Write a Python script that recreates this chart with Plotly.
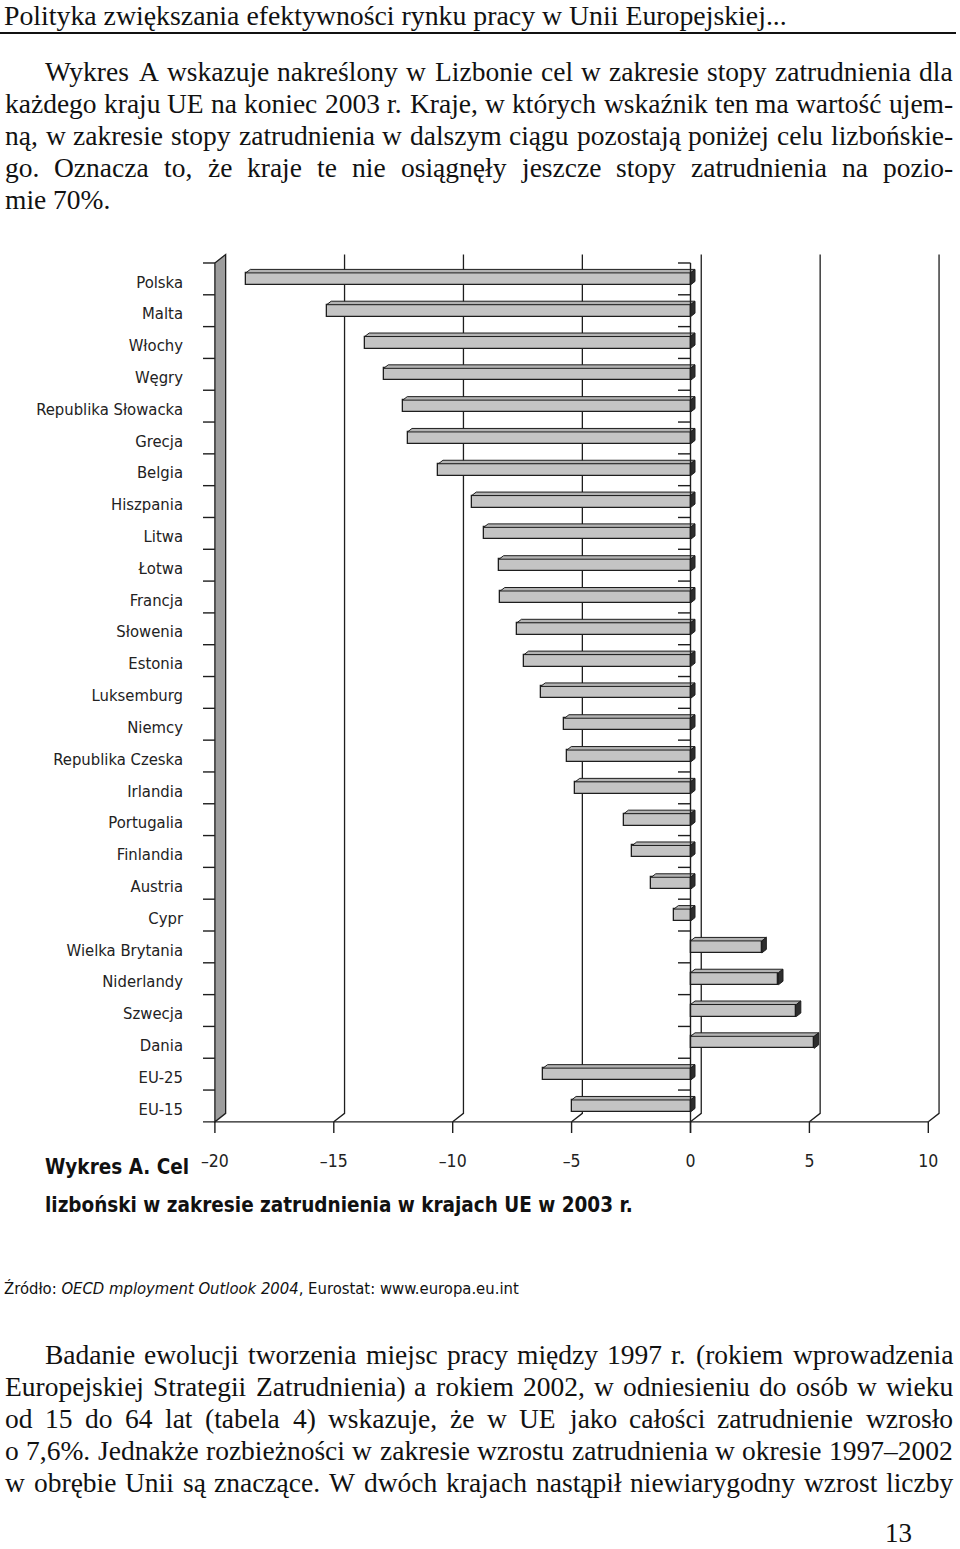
import plotly.graph_objects as go

# ---------------- data ----------------
countries = ["Polska", "Malta", "Włochy", "Węgry", "Republika Słowacka", "Grecja", "Belgia",
             "Hiszpania", "Litwa", "Łotwa", "Francja", "Słowenia", "Estonia", "Luksemburg",
             "Niemcy", "Republika Czeska", "Irlandia", "Portugalia", "Finlandia", "Austria",
             "Cypr", "Wielka Brytania", "Niderlandy", "Szwecja", "Dania", "EU-25", "EU-15"]
gap_to_target = [-18.7, -15.3, -13.7, -12.9, -12.1, -11.9, -10.6,
                 -9.2, -8.7, -8.05, -8.0, -7.3, -7.0, -6.3,
                 -5.3, -5.2, -4.85, -2.8, -2.45, -1.65,
                 -0.7, 3.0, 3.7, 4.45, 5.2, -6.2, -5.0]
tick_values = [-20, -15, -10, -5, 0, 5, 10]
tick_labels = ["–20", "–15", "–10", "–5", "0", "5", "10"]

header = "Polityka zwiększania efektywności rynku pracy w Unii Europejskiej..."
para1 = ["Wykres A wskazuje nakreślony w Lizbonie cel w zakresie stopy zatrudnienia dla",
         "każdego kraju UE na koniec 2003 r. Kraje, w których wskaźnik ten ma wartość ujem-",
         "ną, w zakresie stopy zatrudnienia w dalszym ciągu pozostają poniżej celu lizbońskie-",
         "go. Oznacza to, że kraje te nie osiągnęły jeszcze stopy zatrudnienia na pozio-",
         "mie 70%."]
para2 = ["Badanie ewolucji tworzenia miejsc pracy między 1997 r. (rokiem wprowadzenia",
         "Europejskiej Strategii Zatrudnienia) a rokiem 2002, w odniesieniu do osób w wieku",
         "od 15 do 64 lat (tabela 4) wskazuje, że w UE jako całości zatrudnienie wzrosło",
         "o 7,6%. Jednakże rozbieżności w zakresie wzrostu zatrudnienia w okresie 1997–2002",
         "w obrębie Unii są znaczące. W dwóch krajach nastąpił niewiarygodny wzrost liczby"]
caption1 = "Wykres A. Cel"
caption2 = "lizboński w zakresie zatrudnienia w krajach UE w 2003 r."
source = "Źródło: <i>OECD mployment Outlook 2004</i>, Eurostat: www.europa.eu.int"
page_no = "13"

# ---------------- geometry ----------------
W, H = 960, 1549
X0_PX, PX_PER_UNIT = 690.5, 23.78
ROW0_PX, PX_PER_ROW = 278.9, 31.81
L_PX, R_PX, T_PX, B_PX = 186, 950, 246, 1140

def ux(px):  # pixel x -> data x
    return (px - X0_PX) / PX_PER_UNIT

def ur(py):  # pixel y -> row
    return (py - ROW0_PX) / PX_PER_ROW

def fx(px):
    return px / W

def fy(py):
    return 1 - py / H

rows = list(range(len(countries)))
n = len(countries)
label_rows = [r + 0.09 for r in rows]
half_h = 6.0 / PX_PER_ROW
ddx, ddy = 4.5 / PX_PER_UNIT, -3.5 / PX_PER_ROW
bdx, bdy = 10.75 / PX_PER_UNIT, -8.5 / PX_PER_ROW
top_row = -0.5
floor_row = n - 0.5
tick_bottom_row = ur(1133)

SERIF = "Liberation Serif, Times New Roman, serif"
NARROW = "Liberation Sans Narrow, DejaVu Sans Condensed, Arial Narrow, Liberation Sans, sans-serif"
LINE = "#1e1e1e"

fig = go.Figure()

# front faces
fig.add_trace(go.Bar(
    x=gap_to_target, y=rows, orientation="h", base=0, width=2 * half_h,
    marker=dict(color="#c4c4c4", line=dict(color=LINE, width=1.3)),
    hoverinfo="skip", showlegend=False))

# top faces and end caps
tx, ty, cx, cy = [], [], [], []
for r, v in zip(rows, gap_to_target):
    x0, x1 = min(0, v), max(0, v)
    yt, yb = r - half_h, r + half_h
    tx += [x0, x1, x1 + ddx, x0 + ddx, x0, None]
    ty += [yt, yt, yt + ddy, yt + ddy, yt, None]
    cx += [x1, x1, x1 + ddx, x1 + ddx, x1, None]
    cy += [yt, yb, yb + ddy, yt + ddy, yt, None]
fig.add_trace(go.Scatter(x=tx, y=ty, mode="lines", fill="toself", fillcolor="#b3b3b3",
                         line=dict(color=LINE, width=1), hoverinfo="skip", showlegend=False))
fig.add_trace(go.Scatter(x=cx, y=cy, mode="lines", fill="toself", fillcolor="#2e2e2e",
                         line=dict(color=LINE, width=1), hoverinfo="skip", showlegend=False))

shapes = []
# left wall
wall = (f"M {-20},{top_row} L {-20 + bdx},{top_row + bdy} L {-20 + bdx},{floor_row + bdy} "
        f"L {-20},{floor_row} Z")
shapes.append(dict(type="path", path=wall, xref="x", yref="y", fillcolor="#9d9d9d",
                   line=dict(color=LINE, width=1.3), layer="below"))
# back gridlines with floor slant
for v in tick_values[1:]:
    p = (f"M {v + bdx},{top_row + bdy} L {v + bdx},{floor_row + bdy} L {v},{floor_row}")
    shapes.append(dict(type="path", path=p, xref="x", yref="y",
                       line=dict(color=LINE, width=1.3), layer="below"))
# floor front edge
shapes.append(dict(type="line", xref="x", yref="y", x0=ux(203), x1=10, y0=floor_row, y1=floor_row,
                   line=dict(color=LINE, width=1.4), layer="above"))
# category ticks on the wall and at zero
for k in range(n):
    yk = k - 0.5
    shapes.append(dict(type="line", xref="x", yref="y", x0=ux(203), x1=-20, y0=yk, y1=yk,
                       line=dict(color=LINE, width=1.4), layer="above"))
    shapes.append(dict(type="line", xref="x", yref="y", x0=ux(678), x1=0, y0=yk, y1=yk,
                       line=dict(color=LINE, width=1.4), layer="above"))
# zero axis line
shapes.append(dict(type="line", xref="x", yref="y", x0=0, x1=0, y0=top_row, y1=tick_bottom_row,
                   line=dict(color=LINE, width=1.4), layer="above"))
# value ticks under the floor
for v in tick_values:
    shapes.append(dict(type="line", xref="x", yref="y", x0=v, x1=v, y0=floor_row,
                       y1=tick_bottom_row, line=dict(color=LINE, width=1.4), layer="above"))
# header rule
shapes.append(dict(type="line", xref="paper", yref="paper", x0=0, x1=fx(956), y0=fy(33), y1=fy(33),
                   line=dict(color="#111", width=2)))

ann = []
def text(t, px, py, size, family, anchor="left", color="#111"):
    ann.append(dict(text=t, x=fx(px), y=fy(py), xref="paper", yref="paper", xanchor=anchor,
                    yanchor="middle", showarrow=False, borderpad=0,
                    font=dict(size=size, family=family, color=color)))

# Times-compatible advance widths (1/1000 em) for justification
TW = dict(zip("abcdefghijklmnopqrstuvwxyz",
              [444, 500, 444, 500, 444, 333, 500, 500, 278, 278, 500, 278, 778, 500, 500, 500,
               500, 333, 389, 278, 500, 500, 722, 500, 500, 444]))
TW.update(dict(zip("ABCDEFGHIJKLMNOPQRSTUVWXYZ",
                   [722, 667, 667, 722, 611, 556, 722, 722, 333, 389, 722, 611, 889, 722, 722,
                    556, 722, 667, 556, 611, 722, 722, 944, 722, 722, 611])))
TW.update({c: 500 for c in "0123456789"})
TW.update({",": 250, ".": 250, "-": 333, "(": 333, ")": 333, "%": 833, ":": 278, ";": 278,
           "–": 500, " ": 250})
BASE = dict(zip("ąćęłńóśźżĄĆĘŁŃÓŚŹŻ", "acelnoszzACELNOSZZ"))

def word_w(w, size):
    return sum(TW.get(BASE.get(c, c), 500) for c in w) * size / 1000.0

BODY = 27.5
def justified(lines, ys, left_first, left, right, justify_last):
    for i, (line, yy) in enumerate(zip(lines, ys)):
        x0 = left_first if i == 0 else left
        last = (i == len(lines) - 1)
        if last and not justify_last:
            text(line, x0, yy, BODY, SERIF)
            continue
        words = line.split(" ")
        widths = [word_w(w, BODY) for w in words]
        gap = (right - x0 - sum(widths)) / (len(words) - 1)
        x = x0
        for w, wd in zip(words, widths):
            text(w, x, yy, BODY, SERIF)
            x += wd + gap

text(header, 3, 15, 27.8, SERIF)
justified(para1, [72, 104, 136, 168, 200], 44, 4, 952, False)
justified(para2, [1354, 1386, 1418, 1450, 1482], 44, 4, 952, True)
text(page_no, 898, 1533, 27, SERIF, anchor="center")
text("<b>" + caption1 + "</b>", 44, 1167, 20.5, NARROW)
text("<b>" + caption2 + "</b>", 44, 1205, 20.5, NARROW)
text(source, 3, 1288, 16.5, NARROW)

fig.update_layout(
    width=W, height=H, autosize=False,
    margin=dict(l=0, r=0, t=0, b=0),
    paper_bgcolor="white", plot_bgcolor="white",
    showlegend=False, bargap=0,
    shapes=shapes, annotations=ann,
    xaxis=dict(domain=[fx(L_PX), fx(R_PX)], range=[ux(L_PX), ux(R_PX)],
               tickvals=tick_values, ticktext=tick_labels, ticks="", showgrid=False,
               zeroline=False, showline=False, ticklabelstandoff=8,
               tickfont=dict(size=17.5, family=NARROW, color="#222")),
    yaxis=dict(domain=[fy(B_PX), fy(T_PX)], range=[ur(B_PX), ur(T_PX)],
               tickvals=label_rows, ticktext=countries, ticks="", showgrid=False,
               zeroline=False, showline=False, ticklabelstandoff=2,
               tickfont=dict(size=16.5, family=NARROW, color="#222")),
)

fig.write_html("out.html", config={"displayModeBar": False},
               post_script="document.body.style.margin='0';")
